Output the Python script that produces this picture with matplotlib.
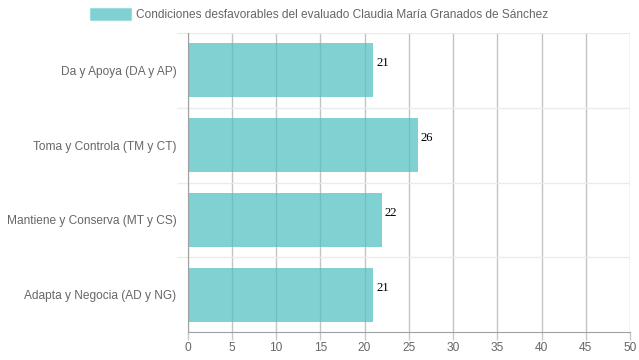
import matplotlib.pyplot as plt
from matplotlib.patches import Patch
from matplotlib.ticker import FixedLocator

# data
categories = ['Da y Apoya (DA y AP)', 'Toma y Controla (TM y CT)',
              'Mantiene y Conserva (MT y CS)', 'Adapta y Negocia (AD y NG)']
values = [21, 26, 22, 21]
legend_label = 'Condiciones desfavorables del evaluado Claudia María Granados de Sánchez'
xticks = list(range(0, 55, 5))

bar_color = (75/255, 192/255, 192/255, 0.7)
text_gray = '#666666'
fs = 8.6

plt.rcParams['font.family'] = ['Liberation Sans', 'DejaVu Sans']

fig = plt.figure(figsize=(6.39, 3.6), dpi=100)
ax = fig.add_axes([187.5/639, 1 - 332/360, (630 - 187.5)/639, (332 - 33)/360])

pos = list(range(len(categories)))
ax.barh(pos, values, height=0.72, color=bar_color, zorder=2)

for p, v in zip(pos, values):
    ax.annotate(str(v), (v, p), xytext=(2, 5), textcoords='offset points',
                ha='left', va='center', fontsize=9.2, family='Liberation Serif',
                color='black')

ax.set_xlim(0, 50)
ax.set_ylim(len(categories) - 0.5, -0.5)
ax.set_xticks(xticks)
ax.set_yticks(pos)
ax.set_yticklabels(categories)
ax.yaxis.set_minor_locator(FixedLocator([-0.5, 0.5, 1.5, 2.5]))

ax.tick_params(axis='x', length=6, width=1, color='#c8c8c8', labelsize=fs,
               labelcolor=text_gray, pad=1.5)
ax.tick_params(axis='y', which='major', length=0, labelsize=fs,
               labelcolor=text_gray, pad=8)
ax.tick_params(axis='y', which='minor', length=8, width=1, color='#ebebeb')

ax.set_axisbelow(True)
ax.grid(axis='x', color='#c4c4c4', linewidth=1, zorder=0)
ax.grid(axis='y', which='minor', color='#ebebeb', linewidth=1, zorder=0)

for side in ['top', 'right']:
    ax.spines[side].set_visible(False)
ax.spines['left'].set_color('#a0a0a0')
ax.spines['bottom'].set_color('#a0a0a0')

handle = Patch(facecolor=bar_color, edgecolor=(75/255, 192/255, 192/255, 0.25), linewidth=1)
fig.legend([handle], [legend_label], loc='upper center', bbox_to_anchor=(0.5, 1.0),
           frameon=False, fontsize=fs, labelcolor=text_gray, handlelength=3.4,
           handleheight=1.15, handletextpad=0.45, borderaxespad=0.3)

fig.savefig('out.png', dpi=100)
